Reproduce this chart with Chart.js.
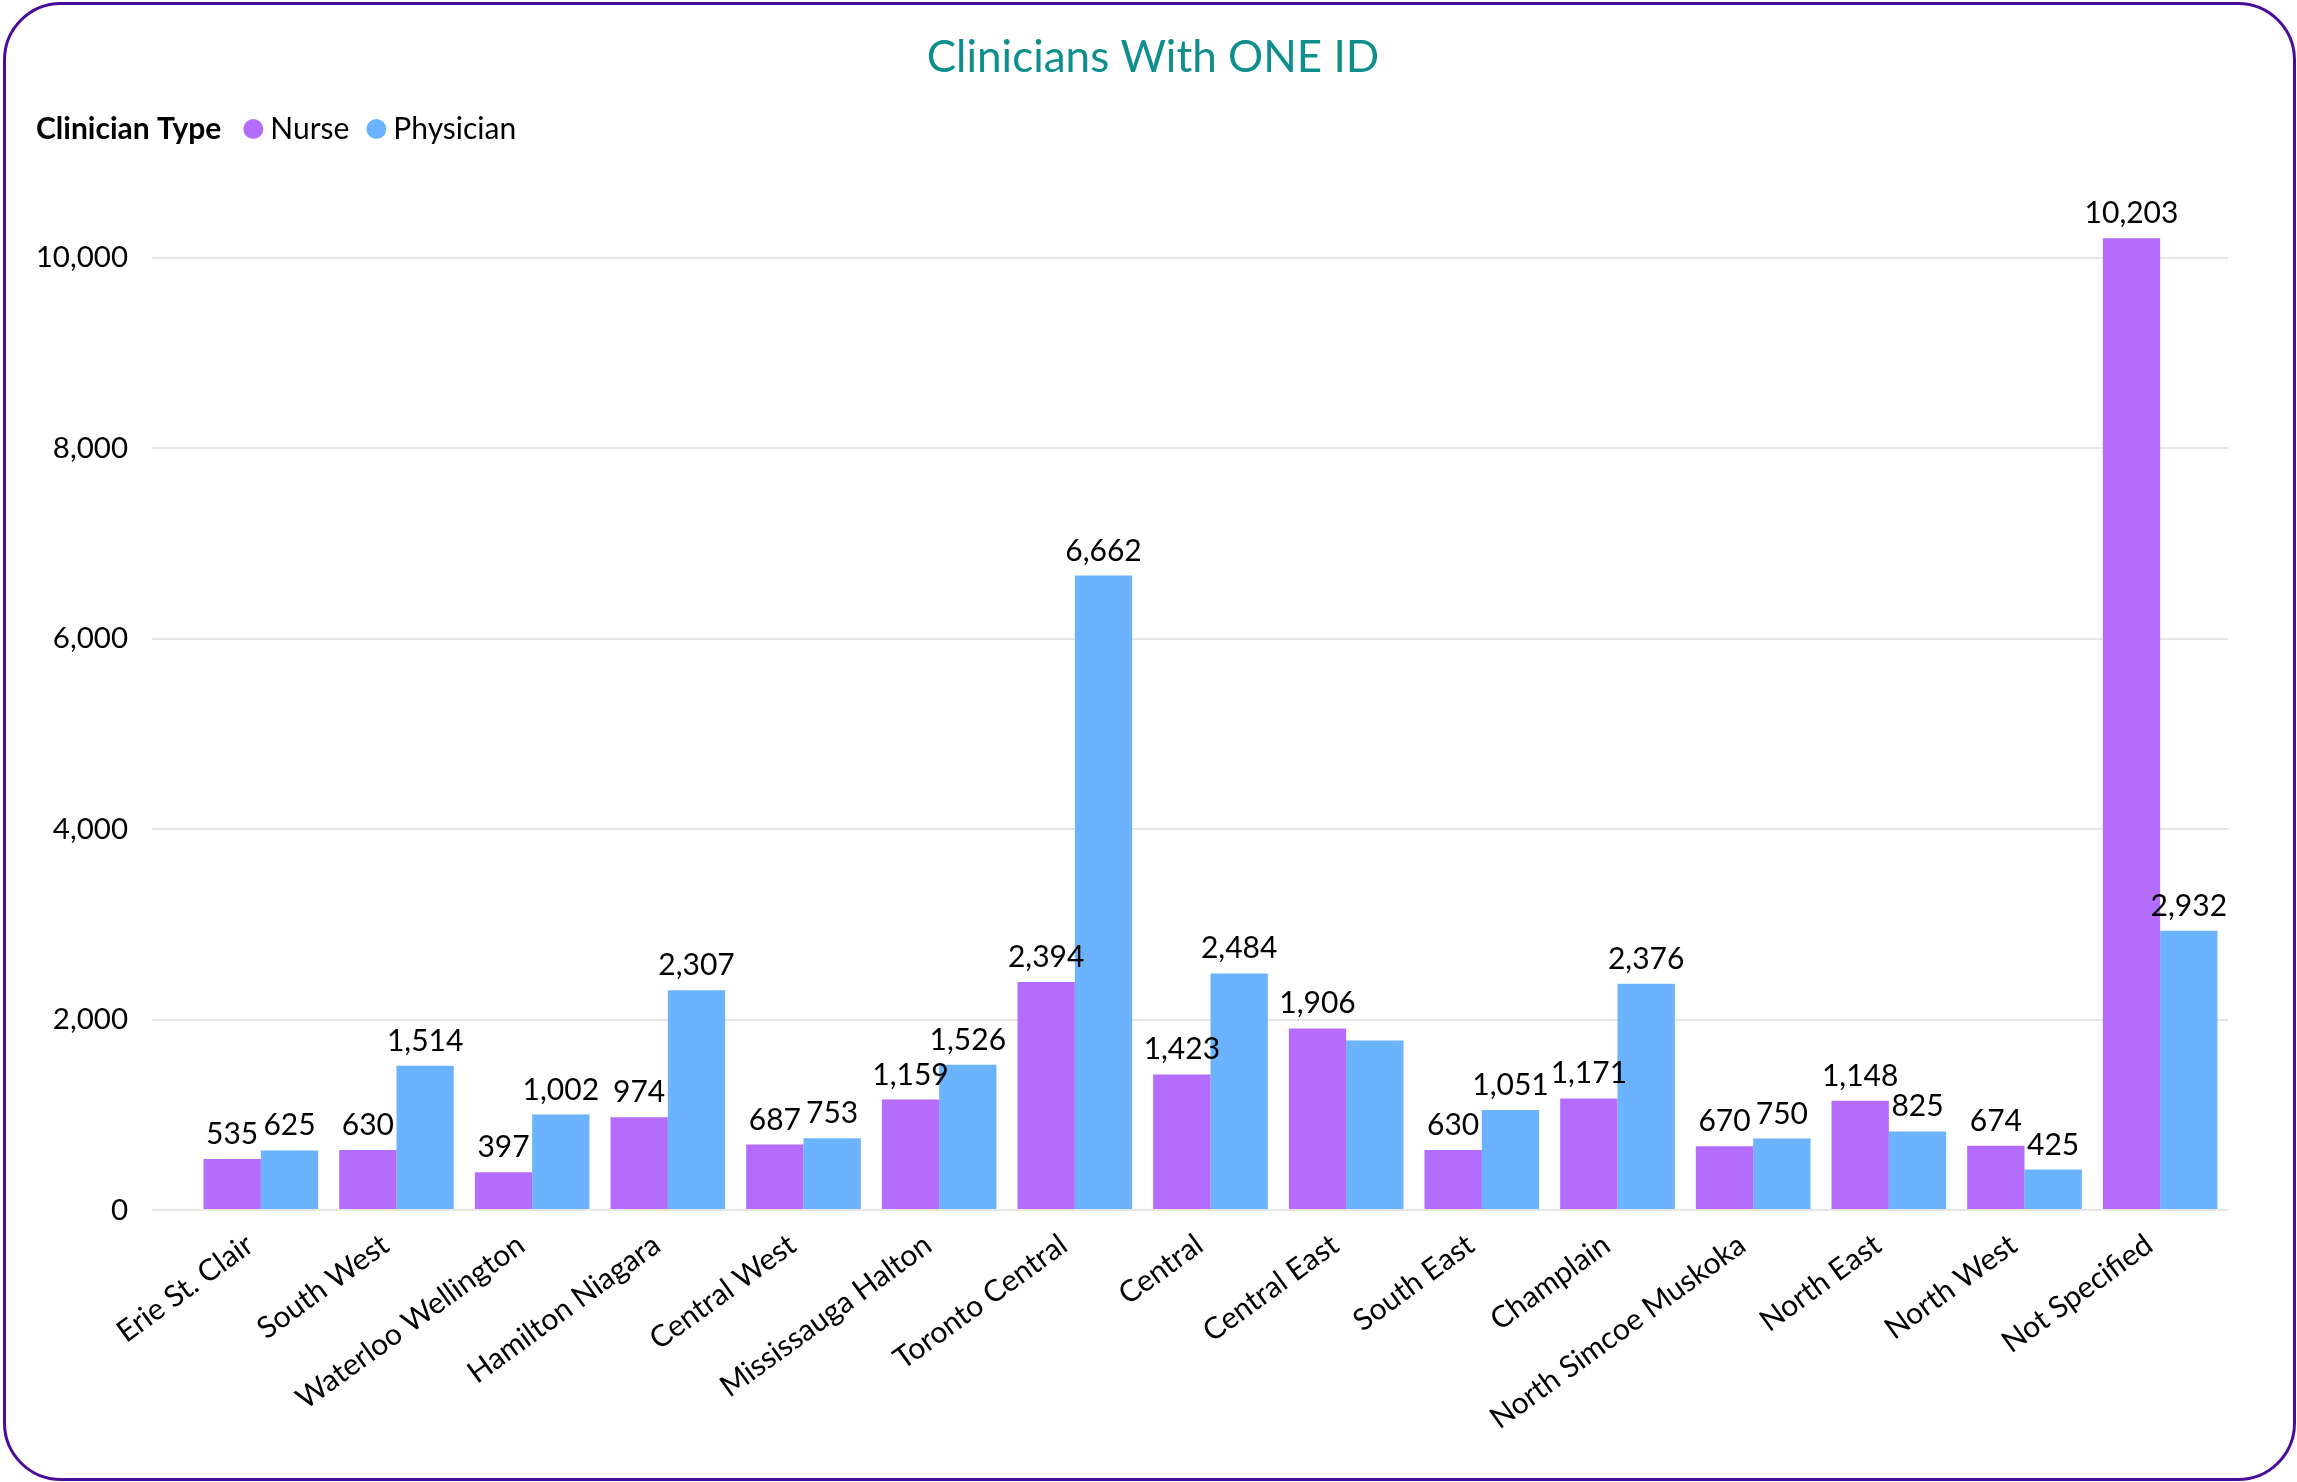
<!DOCTYPE html>
<html>
<head>
<meta charset="utf-8">
<script src="https://cdn.jsdelivr.net/npm/chart.js@4.4.1/dist/chart.umd.min.js"></script>
<style>
html,body{margin:0;padding:0;background:#fff;overflow:hidden}
#wrap{position:relative;width:2297px;height:1482px}
#c{position:absolute;left:0;top:0}
#frame{position:absolute;left:3px;top:2px;width:2293px;height:1479px;border:3px solid #4B0C9B;border-radius:58px;box-sizing:border-box;pointer-events:none}
</style>
</head>
<body>
<div id="wrap">
<canvas id="c" width="2297" height="1482"></canvas>
<div id="frame"></div>
</div>
<script>
const chartTitle = 'Clinicians With ONE ID';
const legendTitle = 'Clinician Type';
const categories = ['Erie St. Clair','South West','Waterloo Wellington','Hamilton Niagara','Central West','Mississauga Halton','Toronto Central','Central','Central East','South East','Champlain','North Simcoe Muskoka','North East','North West','Not Specified'];
const seriesNames = ['Nurse','Physician'];
const nurseValues = [535,630,397,974,687,1159,2394,1423,1906,630,1171,670,1148,674,10203];
const physicianValues = [625,1514,1002,2307,753,1526,6662,2484,1780,1051,2376,750,825,425,2932];
const physicianLabelHidden = ['Central East'];
const yTicks = [0,2000,4000,6000,8000,10000];
const seriesColors = ['#B36CFC','#6CB3FE'];

const FONT = 'Lato, "Noto Sans", sans-serif';
const fmt = v => v.toLocaleString('en-US');

const decorPlugin = {
  id: 'decor',
  afterDatasetsDraw(chart) {
    const ctx = chart.ctx;
    ctx.save();
    ctx.font = '30px ' + FONT;
    ctx.fillStyle = '#000';
    ctx.textAlign = 'center';
    ctx.textBaseline = 'alphabetic';
    chart.data.datasets.forEach((ds, di) => {
      const meta = chart.getDatasetMeta(di);
      meta.data.forEach((bar, i) => {
        if (di === 1 && physicianLabelHidden.includes(categories[i])) return;
        ctx.fillText(fmt(ds.data[i]), bar.x, bar.y - 15);
      });
    });
    ctx.restore();
  },
  afterDraw(chart) {
    const ctx = chart.ctx;
    ctx.save();
    // title
    ctx.font = '44px ' + FONT;
    ctx.fillStyle = '#0F8E8E';
    ctx.textAlign = 'center';
    ctx.textBaseline = 'middle';
    ctx.fillText(chartTitle, 1153, 58);
    // legend
    ctx.textAlign = 'left';
    ctx.textBaseline = 'alphabetic';
    const baseY = 139;
    let x = 36;
    ctx.font = 'bold 30px ' + FONT;
    ctx.fillStyle = '#000';
    ctx.fillText(legendTitle, x, baseY);
    x += ctx.measureText(legendTitle).width + 22;
    ctx.font = '30px ' + FONT;
    seriesNames.forEach((name, i) => {
      ctx.beginPath();
      ctx.fillStyle = seriesColors[i];
      ctx.arc(x + 10, 129, 10, 0, Math.PI * 2);
      ctx.fill();
      x += 27;
      ctx.fillStyle = '#000';
      ctx.fillText(name, x, baseY);
      x += ctx.measureText(name).width + 17;
    });
    ctx.restore();
  }
};

new Chart(document.getElementById('c'), {
  type: 'bar',
  data: {
    labels: categories,
    datasets: [
      { label: seriesNames[0], data: nurseValues, backgroundColor: seriesColors[0], borderWidth: 0 },
      { label: seriesNames[1], data: physicianValues, backgroundColor: seriesColors[1], borderWidth: 0 }
    ]
  },
  options: {
    responsive: false,
    animation: false,
    devicePixelRatio: 1,
    layout: { padding: { top: 210, left: 0, right: 69, bottom: 0 } },
    datasets: { bar: { categoryPercentage: 0.845, barPercentage: 1 } },
    plugins: { legend: { display: false }, title: { display: false }, tooltip: { enabled: false } },
    scales: {
      x: {
        grid: { display: false },
        border: { display: false },
        ticks: { autoSkip: false, minRotation: 36, maxRotation: 36, padding: 9, labelOffset: -11, color: '#000', font: { family: FONT, size: 30 } },
        afterFit(scale) { scale.height = 272; }
      },
      y: {
        min: 0,
        max: 10500,
        border: { display: false },
        grid: { color: '#E6E6E6', lineWidth: 2, tickLength: 41, drawTicks: true },
        afterBuildTicks(axis) { axis.ticks = yTicks.map(v => ({ value: v })); },
        ticks: { padding: 24, color: '#000', font: { family: FONT, size: 29.5 }, callback: v => fmt(v) },
        afterFit(scale) { scale.width = 193; }
      }
    }
  },
  plugins: [decorPlugin]
});
</script>
</body>
</html>
